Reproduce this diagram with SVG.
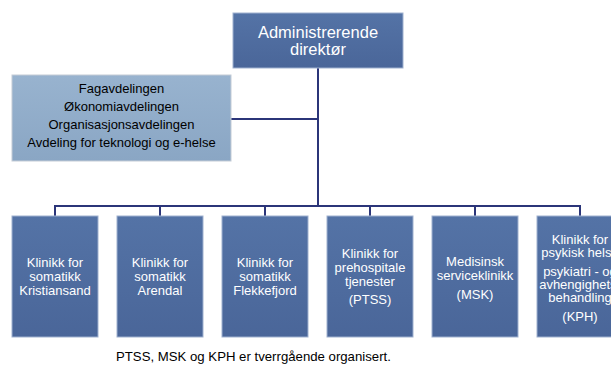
<svg xmlns="http://www.w3.org/2000/svg" width="611" height="368" viewBox="0 0 611 368">
  <defs>
    <linearGradient id="dark" x1="0" y1="0" x2="0" y2="1">
      <stop offset="0" stop-color="#5473A6"/>
      <stop offset="1" stop-color="#4A6699"/>
    </linearGradient>
    <linearGradient id="light" x1="0" y1="0" x2="0" y2="1">
      <stop offset="0" stop-color="#98B3CF"/>
      <stop offset="1" stop-color="#8AA6C4"/>
    </linearGradient>
    <style>
      .dbox { fill: url(#dark); stroke: #9FB1CF; stroke-width: 1; }
      .lbox { fill: url(#light); stroke: #C4CCD6; stroke-width: 1; }
      .wt { font-family: "Liberation Sans", Arial, sans-serif; fill: #FFFFFF; text-anchor: middle; }
      .bt { font-family: "Liberation Sans", Arial, sans-serif; fill: #000000; text-anchor: middle; font-size: 13px; }
      .conn { stroke: #2B3579; stroke-width: 2; fill: none; }
      .note { font-family: "Liberation Sans", Arial, sans-serif; fill: #000000; font-size: 13.2px; }
    </style>
  </defs>
  <rect width="611" height="368" fill="#FFFFFF"/>

  <g id="connectors">
    <path class="conn" d="M318 68 V206"/>
    <path class="conn" d="M231 119 H318"/>
    <path class="conn" d="M55 216 V206 H580 V216"/>
    <path class="conn" d="M160 206 V216"/>
    <path class="conn" d="M265 206 V216"/>
    <path class="conn" d="M370 206 V216"/>
    <path class="conn" d="M475 206 V216"/>
  </g>

  <g id="adm-dir">
    <rect class="dbox" x="233" y="13" width="170" height="55"/>
    <text class="wt" font-size="16.5" x="318" y="38">Administrerende</text>
    <text class="wt" font-size="16.5" x="318" y="55">direktør</text>
  </g>

  <g id="staff">
    <rect class="lbox" x="12" y="75" width="219" height="86"/>
    <text class="bt" x="121.5" y="93">Fagavdelingen</text>
    <text class="bt" x="121.5" y="111">Økonomiavdelingen</text>
    <text class="bt" x="121.5" y="129">Organisasjonsavdelingen</text>
    <text class="bt" x="121.5" y="147">Avdeling for teknologi og e-helse</text>
  </g>

  <g id="k-kristiansand">
    <rect class="dbox" x="12" y="216" width="86" height="121"/>
    <text class="wt" font-size="13" x="55" y="267">Klinikk for</text>
    <text class="wt" font-size="13" x="55" y="281">somatikk</text>
    <text class="wt" font-size="13" x="55" y="295">Kristiansand</text>
  </g>

  <g id="k-arendal">
    <rect class="dbox" x="117" y="216" width="86" height="121"/>
    <text class="wt" font-size="13" x="160" y="267">Klinikk for</text>
    <text class="wt" font-size="13" x="160" y="281">somatikk</text>
    <text class="wt" font-size="13" x="160" y="295">Arendal</text>
  </g>

  <g id="k-flekkefjord">
    <rect class="dbox" x="222" y="216" width="86" height="121"/>
    <text class="wt" font-size="13" x="265" y="267">Klinikk for</text>
    <text class="wt" font-size="13" x="265" y="281">somatikk</text>
    <text class="wt" font-size="13" x="265" y="295">Flekkefjord</text>
  </g>

  <g id="ptss">
    <rect class="dbox" x="327" y="216" width="86" height="121"/>
    <text class="wt" font-size="13" x="370" y="258">Klinikk for</text>
    <text class="wt" font-size="13" x="370" y="272">prehospitale</text>
    <text class="wt" font-size="13" x="370" y="286">tjenester</text>
    <text class="wt" font-size="13" x="370" y="304">(PTSS)</text>
  </g>

  <g id="msk">
    <rect class="dbox" x="432" y="216" width="86" height="121"/>
    <text class="wt" font-size="13" x="475" y="266">Medisinsk</text>
    <text class="wt" font-size="13" x="475" y="280">serviceklinikk</text>
    <text class="wt" font-size="13" x="475" y="299">(MSK)</text>
  </g>

  <g id="kph">
    <rect class="dbox" x="537" y="216" width="86" height="121"/>
    <text class="wt" font-size="13" x="580" y="244">Klinikk for</text>
    <text class="wt" font-size="13" x="580" y="257">psykisk helse</text>
    <text class="wt" font-size="13" x="580" y="276">psykiatri - og</text>
    <text class="wt" font-size="13" x="580" y="289">avhengighets-</text>
    <text class="wt" font-size="13" x="580" y="302">behandling</text>
    <text class="wt" font-size="13" x="580" y="321">(KPH)</text>
  </g>

  <text class="note" x="116" y="361">PTSS, MSK og KPH er tverrgående organisert.</text>
</svg>
